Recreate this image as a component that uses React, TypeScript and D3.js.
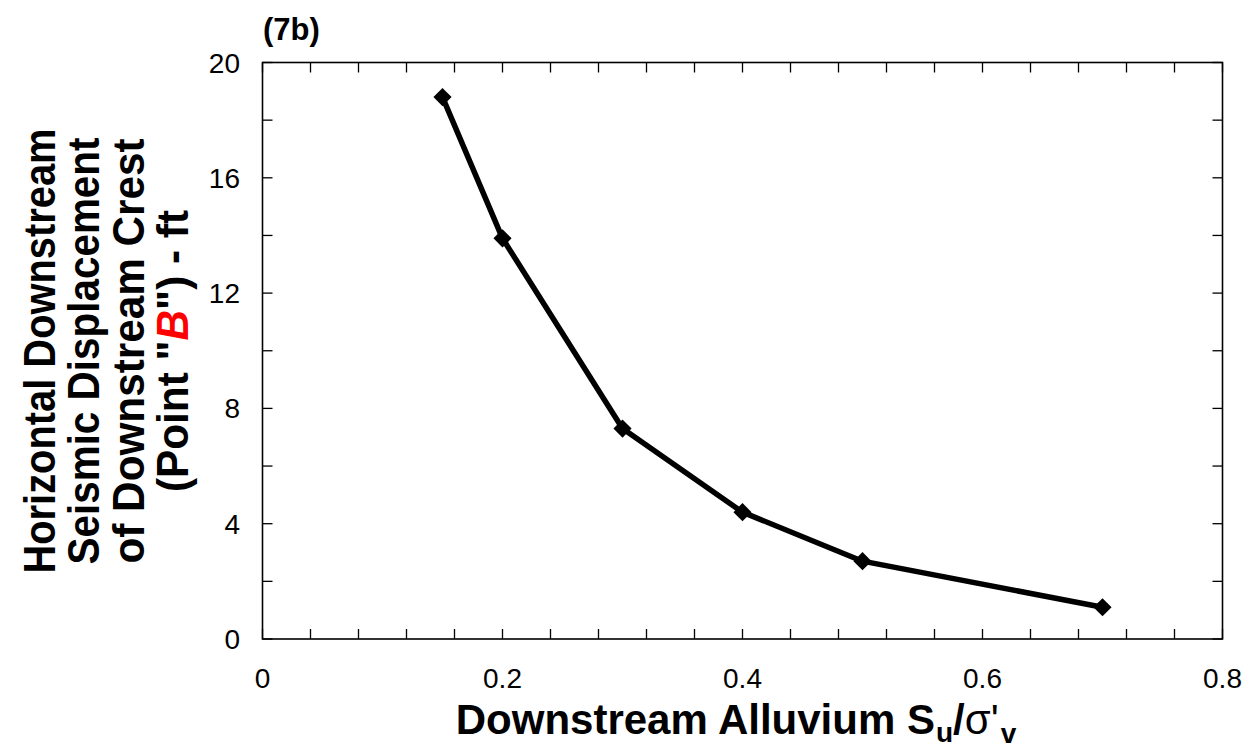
import React from "react";
import * as d3 from "d3";

// values (7b)
const suRatio = [0.15, 0.2, 0.3, 0.4, 0.5, 0.7];
const displacement = [18.8, 13.9, 7.3, 4.4, 2.7, 1.1];
const xTickLabels = [0, 0.2, 0.4, 0.6, 0.8];
const yTickLabels = [0, 4, 8, 12, 16, 20];
const yTitleLines = ["Horizontal Downstream", "Seismic Displacement", "of Downstream Crest"];
const yTitleLengths = [445, 427, 425];

const W = 1249;
const H = 752;
const left = 262.5;
const right = 1222.5;
const top = 62.5;
const bottom = 639;
const FONT = "Arial, 'Liberation Sans', sans-serif";

const App = () => {
  const x = d3.scaleLinear().domain([0, 0.8]).range([left, right]);
  const y = d3.scaleLinear().domain([0, 20]).range([bottom, top]);

  const line = d3
    .line<number>()
    .x((d, i) => x(suRatio[i]))
    .y((d) => y(d));

  const xMinor = d3.range(0, 0.8001, 0.04);
  const yMinor = d3.range(0, 20.001, 2);
  const tickLen = 10;

  const diamond = d3.symbol().type(d3.symbolDiamond2).size(210)();

  return (
    <svg
      width={W}
      height={H}
      style={{ position: "absolute", left: 0, top: 0, background: "#fff" }}
      fontFamily={FONT}
    >
      <rect x={0} y={0} width={W} height={H} fill="#fff" />

      {/* inward ticks on all four sides */}
      <g stroke="#000" strokeWidth={1.3}>
        {xMinor.map((v, i) => (
          <g key={"xt" + i}>
            <line x1={x(v)} x2={x(v)} y1={bottom} y2={bottom - tickLen} />
            <line x1={x(v)} x2={x(v)} y1={top} y2={top + tickLen} />
          </g>
        ))}
        {yMinor.map((v, i) => (
          <g key={"yt" + i}>
            <line x1={left} x2={left + tickLen} y1={y(v)} y2={y(v)} />
            <line x1={right} x2={right - tickLen} y1={y(v)} y2={y(v)} />
          </g>
        ))}
      </g>
      <rect
        x={left}
        y={top}
        width={right - left}
        height={bottom - top}
        fill="none"
        stroke="#000"
        strokeWidth={1.6}
      />

      {/* tick labels */}
      {yTickLabels.map((v) => (
        <text
          key={"yl" + v}
          x={240}
          y={y(v)}
          dy="0.36em"
          textAnchor="end"
          fontSize={28}
        >
          {v}
        </text>
      ))}
      {xTickLabels.map((v) => (
        <text key={"xl" + v} x={x(v)} y={688} textAnchor="middle" fontSize={28}>
          {v}
        </text>
      ))}

      {/* data */}
      <path
        d={line(displacement) || ""}
        fill="none"
        stroke="#000"
        strokeWidth={5.5}
        strokeLinejoin="round"
      />
      {displacement.map((d, i) => (
        <path
          key={"m" + i}
          d={diamond || ""}
          transform={`translate(${x(suRatio[i])},${y(d)})`}
          fill="#000"
        />
      ))}

      {/* panel label */}
      <text x={263} y={40} fontSize={31} fontWeight="bold">
        (7b)
      </text>

      {/* y title */}
      {yTitleLines.map((t, i) => (
        <text
          key={"yt" + i}
          transform={`translate(${55 + 44.3 * i},351) rotate(-90)`}
          textAnchor="middle"
          fontSize={44}
          fontWeight="bold"
          textLength={yTitleLengths[i]}
          lengthAdjust="spacingAndGlyphs"
        >
          {t}
        </text>
      ))}
      <text
        transform={`translate(${55 + 44.3 * 3},351) rotate(-90)`}
        textAnchor="middle"
        fontSize={44}
        fontWeight="bold"
        textLength={282}
        lengthAdjust="spacingAndGlyphs"
      >
        (Point "
        <tspan fill="#ff0000" fontStyle="italic">
          B
        </tspan>
        ") - ft
      </text>

      {/* x title */}
      <text x={736} y={734} textAnchor="middle" fontSize={42} fontWeight="bold">
        Downstream Alluvium S
        <tspan fontSize={28} dx={1} dy={8}>
          u
        </tspan>
        <tspan dy={-8}>/</tspan>
        <tspan fontWeight="normal">σ'</tspan>
        <tspan fontSize={28} dx={2} dy={9}>
          v
        </tspan>
      </text>
    </svg>
  );
};

export default App;
